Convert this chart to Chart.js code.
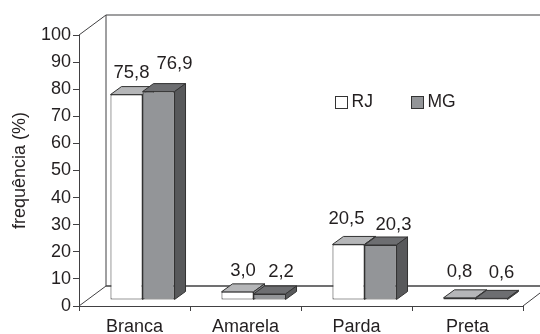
<!DOCTYPE html>
<html>
<head>
<meta charset="utf-8">
<style>
  body { margin: 0; background: #fff; }
  canvas { display: block; }
</style>
<script src="https://cdn.jsdelivr.net/npm/chart.js@4"></script>
</head>
<body>
<canvas id="chart" width="540" height="334"></canvas>
<script>
const categories = ['Branca', 'Amarela', 'Parda', 'Preta'];
const valuesRJ = [75.8, 3.0, 20.5, 0.8];
const valuesMG = [76.9, 2.2, 20.3, 0.6];
const labelsRJ = ['75,8', '3,0', '20,5', '0,8'];
const labelsMG = ['76,9', '2,2', '20,3', '0,6'];

// hand nudges for the value labels, relative to the top of each bar
const nudgeRJ = [[5, -22], [5.5, -21], [-2, -26], [0, -26]];
const nudgeMG = [[16, -28], [11.5, -22], [13, -20], [10, -25]];

const INK = '#231f20';
const LINE = '#414042';
const FONT = '"Liberation Sans", Arial, sans-serif';

const WALL = { dx: 27, dy: -20 };   // depth of the floor and back wall
const PLANE = { dx: 8, dy: -6 };    // where the bars stand on the floor
const BAR = { dx: 11, dy: -8 };     // depth of a bar

const faces = [
    { top: '#b5b6b8', side: '#808285' },
    { top: '#6d6e71', side: '#58595b' }
];

const poly = (ctx, pts, fill) => {
    ctx.beginPath();
    pts.forEach((p, i) => i ? ctx.lineTo(p[0], p[1]) : ctx.moveTo(p[0], p[1]));
    ctx.closePath();
    ctx.fillStyle = fill;
    ctx.fill();
    ctx.lineWidth = 1;
    ctx.strokeStyle = '#333';
    ctx.stroke();
};

const line = (ctx, x1, y1, x2, y2, width) => {
    ctx.beginPath();
    ctx.moveTo(x1, y1);
    ctx.lineTo(x2, y2);
    ctx.lineWidth = width;
    ctx.strokeStyle = LINE;
    ctx.stroke();
};

/* ── Back wall, floor and the 3D faces of the bars ── */
const depthPlugin = {
    id: 'depth',
    beforeDatasetsDraw(chart) {
        const { ctx, chartArea: a } = chart;
        const bx = a.left + WALL.dx;
        const by = a.bottom + WALL.dy;
        const ty = a.top + WALL.dy;

        ctx.save();
        line(ctx, a.left, a.top, bx, ty, 1);
        line(ctx, bx, ty, chart.width, ty, 1.2);
        line(ctx, bx, ty, bx, by, 1);
        line(ctx, a.left, a.bottom, bx, by, 1);
        line(ctx, bx, by, chart.width, by, 1.5);
        line(ctx, a.right, a.bottom, chart.width, a.bottom - 13, 1);

        ctx.translate(PLANE.dx, PLANE.dy);
        chart.data.datasets.forEach((ds, d) => {
            chart.getDatasetMeta(d).data.forEach(bar => {
                const l = bar.x - bar.width / 2;
                const r = bar.x + bar.width / 2;
                poly(ctx, [[l, bar.y], [l + BAR.dx, bar.y + BAR.dy], [r + BAR.dx, bar.y + BAR.dy], [r, bar.y]], faces[d].top);
                poly(ctx, [[r, bar.y], [r + BAR.dx, bar.y + BAR.dy], [r + BAR.dx, bar.base + BAR.dy], [r, bar.base]], faces[d].side);
            });
        });
        ctx.restore();

        // the bars themselves sit on the same plane
        ctx.save();
        ctx.translate(PLANE.dx, PLANE.dy);
    },
    afterDatasetsDraw(chart) {
        const { ctx } = chart;
        ctx.restore();

        // value labels
        ctx.save();
        ctx.font = `18.5px ${FONT}`;
        ctx.fillStyle = INK;
        ctx.textAlign = 'center';
        ctx.textBaseline = 'middle';
        [[labelsRJ, nudgeRJ], [labelsMG, nudgeMG]].forEach(([texts, nudge], d) => {
            chart.getDatasetMeta(d).data.forEach((bar, i) => {
                ctx.fillText(texts[i], bar.x + PLANE.dx + nudge[i][0], bar.y + PLANE.dy + nudge[i][1]);
            });
        });

        // legend
        ctx.font = `17.5px ${FONT}`;
        ctx.textAlign = 'left';
        ctx.lineWidth = 1;
        ctx.strokeStyle = '#333';
        chart.data.datasets.forEach((ds, d) => {
            const x = 335.5 + d * 76;
            ctx.fillStyle = ds.backgroundColor;
            ctx.fillRect(x, 96.5, 12, 12);
            ctx.strokeRect(x, 96.5, 12, 12);
            ctx.fillStyle = INK;
            ctx.fillText(ds.label, x + 16, 102);
        });
        ctx.restore();
    }
};

new Chart(document.getElementById('chart'), {
    type: 'bar',
    data: {
        labels: categories,
        datasets: [
            { label: 'RJ', data: valuesRJ, backgroundColor: '#ffffff' },
            { label: 'MG', data: valuesMG, backgroundColor: '#939598' }
        ]
    },
    options: {
        responsive: false,
        animation: false,
        clip: false,
        layout: { padding: { left: 0, right: 17, top: 35, bottom: 0 } },
        datasets: {
            bar: {
                barPercentage: 1,
                categoryPercentage: 0.577,
                borderWidth: 1,
                borderColor: '#333',
                borderSkipped: false
            }
        },
        plugins: {
            legend: { display: false },
            tooltip: { enabled: false }
        },
        scales: {
            x: {
                afterFit: s => { s.height = 28; },
                grid: { drawOnChartArea: false, color: LINE, tickLength: 5 },
                border: { color: LINE, width: 1 },
                ticks: { color: INK, font: { family: FONT, size: 18 }, padding: 5, maxRotation: 0 }
            },
            y: {
                min: 0,
                max: 100,
                afterFit: s => { s.width = 79; },
                grid: { drawOnChartArea: false, color: LINE, tickLength: 6 },
                border: { color: LINE, width: 1 },
                ticks: { stepSize: 10, color: INK, font: { family: FONT, size: 18 }, padding: 2 },
                title: {
                    display: true,
                    text: 'frequência (%)',
                    color: INK,
                    font: { family: FONT, size: 18 },
                    padding: { top: 9, bottom: 0 }
                }
            }
        }
    },
    plugins: [depthPlugin]
});
</script>
</body>
</html>
